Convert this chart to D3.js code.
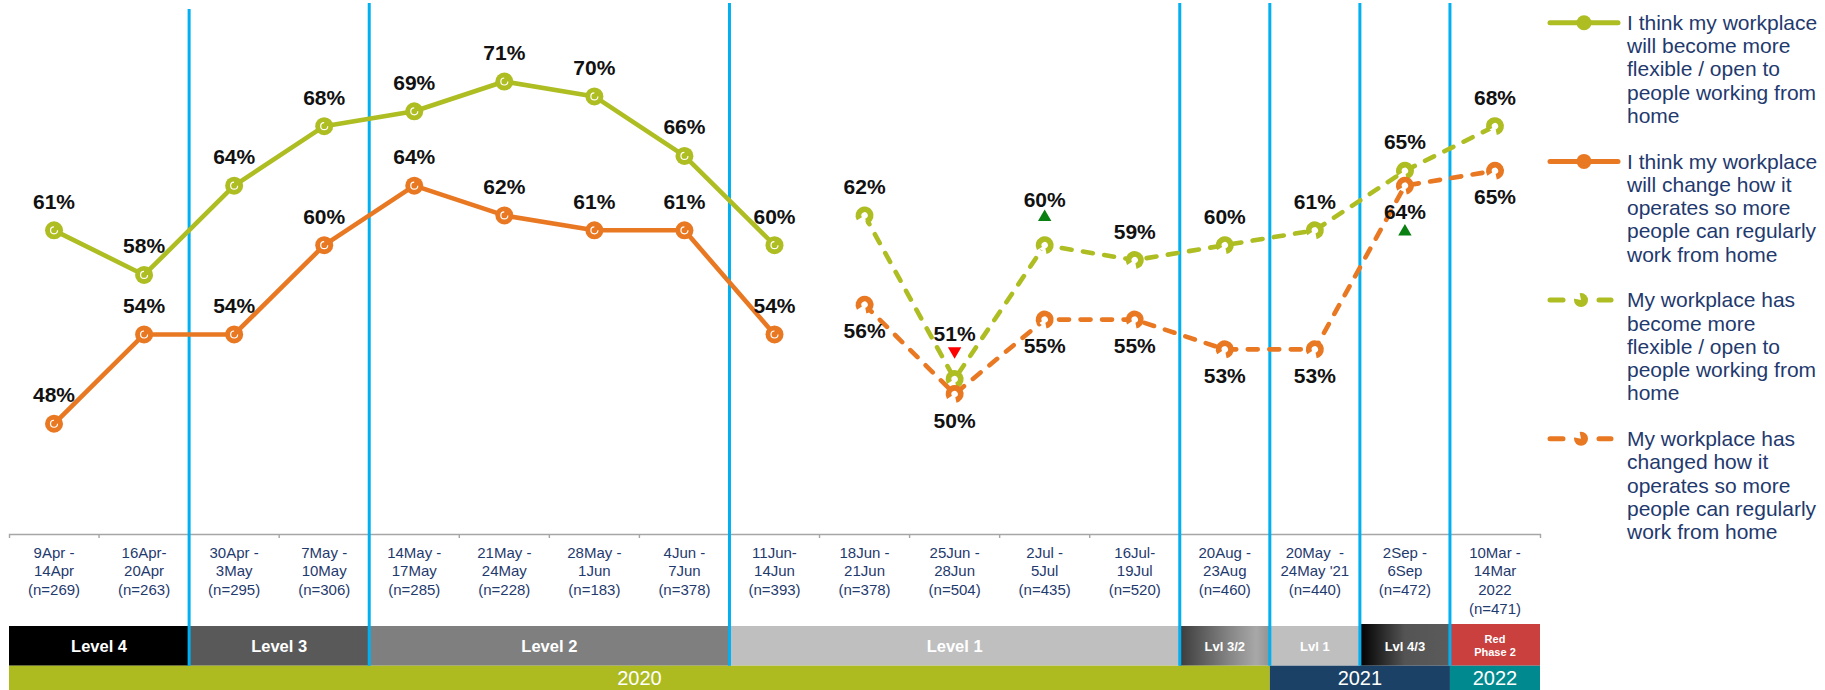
<!DOCTYPE html>
<html>
<head>
<meta charset="utf-8">
<script src="https://cdn.jsdelivr.net/npm/d3@7"></script>
<style>
  html, body { margin: 0; padding: 0; background: #fff; }
  svg { display: block; font-family: "Liberation Sans", Arial, sans-serif; }
  text { white-space: pre; }
</style>
</head>
<body>
<svg id="chart" width="1825" height="690"></svg>
<script>
// ---- Survey waves (x axis) ----
const periods = [
  "9Apr -|14Apr", "16Apr-|20Apr", "30Apr -|3May", "7May -|10May",
  "14May -|17May", "21May -|24May", "28May -|1Jun", "4Jun -|7Jun",
  "11Jun-|14Jun", "18Jun -|21Jun", "25Jun -|28Jun", "2Jul -|5Jul",
  "16Jul-|19Jul", "20Aug -|23Aug", "20May  -|24May '21", "2Sep -|6Sep",
  "10Mar -|14Mar|2022"
];
const sampleSizes = [269, 263, 295, 306, 285, 228, 183, 378, 393, 378, 504, 435, 520, 460, 440, 472, 471];

// ---- Series values (%) ----
const thinkFlexible = [61, 58, 64, 68, 69, 71, 70, 66, 60, null, null, null, null, null, null, null, null];
const thinkChange   = [48, 54, 54, 60, 64, 62, 61, 61, 54, null, null, null, null, null, null, null, null];
const hasFlexible   = [null, null, null, null, null, null, null, null, null, 62, 51, 60, 59, 60, 61, 65, 68];
const hasChanged    = [null, null, null, null, null, null, null, null, null, 56, 50, 55, 55, 53, 53, 64, 65];

// Significant changes vs previous wave: [series key, wave index, direction]
const sigChanges = [["hasFlexible", 10, "down"], ["hasFlexible", 11, "up"], ["hasChanged", 15, "up"]];

// ---- Alert levels and years ----
const levelLabels = ["Level 4", "Level 3", "Level 2", "Level 1", "Lvl 3/2", "Lvl 1", "Lvl 4/3", "Red|Phase 2"];
const levelStart  = [0, 2, 4, 8, 13, 14, 15, 16];
const levelEnd    = [1, 3, 7, 12, 13, 14, 15, 16];
const levelFill   = ["#000000", "#595959", "#7f7f7f", "#bfbfbf", "url(#gLvl32)", "#bfbfbf", "url(#gLvl43)", "#c9403f"];

const yearLabels = ["2020", "2021", "2022"];
const yearStart  = [0, 14, 16];
const yearEnd    = [13, 15, 16];
const yearFill   = ["#adbb21", "#1b4266", "#008a8f"];

// Waves where a new alert level / year begins
const phaseBreaks = [2, 4, 8, 13, 14, 15, 16];

const legendText = [
  ["I think my workplace", "will become more", "flexible / open to", "people working from", "home"],
  ["I think my workplace", "will change how it", "operates so more", "people can regularly", "work from home"],
  ["My workplace has", "become more", "flexible / open to", "people working from", "home"],
  ["My workplace has", "changed how it", "operates so more", "people can regularly", "work from home"]
];

const GREEN = "#adbd22", ORANGE = "#e97823", NAVY = "#1f3a6e", BLUE = "#00b0f0";

const series = [
  { key: "thinkFlexible", values: thinkFlexible, color: GREEN,  dashed: false, label: "above" },
  { key: "thinkChange",   values: thinkChange,   color: ORANGE, dashed: false, label: "above" },
  { key: "hasFlexible",   values: hasFlexible,   color: GREEN,  dashed: true,  label: "above" },
  { key: "hasChanged",    values: hasChanged,    color: ORANGE, dashed: true,  label: "below" }
];

const svg = d3.select("#chart");

// gradients for the mixed-level bands
const defs = svg.append("defs");
const g32 = defs.append("linearGradient").attr("id", "gLvl32");
[["0%", "#3c3c3c"], ["55%", "#858585"], ["85%", "#a8a8a8"], ["100%", "#929292"]]
  .forEach(([o, c]) => g32.append("stop").attr("offset", o).attr("stop-color", c));
const g43 = defs.append("linearGradient").attr("id", "gLvl43");
[["0%", "#000000"], ["50%", "#545454"], ["100%", "#5b5b5b"]]
  .forEach(([o, c]) => g43.append("stop").attr("offset", o).attr("stop-color", c));

// ---- Scales ----
const x = d3.scaleBand().domain(d3.range(periods.length)).range([9, 1540]).padding(0);
const bw = x.bandwidth();
const cx = i => x(i) + bw / 2;
const y = d3.scaleLinear().domain([45, 75]).range([468.4, 22]);

const axisY = 534, bandTop = 626, bandMid = 665.7, bandBottom = 690;

// ---- Level bands ----
const lv = svg.append("g");
levelLabels.forEach((lab, k) => {
  const x0 = x(levelStart[k]), x1 = x(levelEnd[k]) + bw;
  const raised = levelStart[k] >= 15 ? 2 : 0;
  lv.append("rect").attr("x", x0).attr("y", bandTop - raised)
    .attr("width", x1 - x0).attr("height", bandMid - bandTop + raised)
    .attr("fill", levelFill[k]);
  const lines = lab.split("|");
  const small = (x1 - x0) < 100;
  const fs = lines.length > 1 ? 11 : (small ? 13 : 16.5);
  const t = lv.append("text").attr("text-anchor", "middle").attr("fill", "#fff")
    .attr("font-weight", "bold").attr("font-size", fs);
  lines.forEach((ln, j) => {
    const cy = (bandTop + bandMid) / 2 + (j - (lines.length - 1) / 2) * 13;
    t.append("tspan").attr("x", (x0 + x1) / 2).attr("y", cy + fs * 0.36).text(ln);
  });
});

// ---- Year bands ----
const yr = svg.append("g");
yearLabels.forEach((lab, k) => {
  const x0 = x(yearStart[k]), x1 = x(yearEnd[k]) + bw;
  yr.append("rect").attr("x", x0).attr("y", bandMid).attr("width", x1 - x0)
    .attr("height", bandBottom - bandMid).attr("fill", yearFill[k]);
  yr.append("text").attr("x", (x0 + x1) / 2).attr("y", (bandMid + bandBottom) / 2 + 7)
    .attr("text-anchor", "middle").attr("fill", "#fff").attr("font-size", 20).text(lab);
});

// ---- X axis ----
const axis = svg.append("g").attr("transform", `translate(0,${axisY})`)
  .call(d3.axisBottom(x).tickValues([]).tickSizeOuter(4));
axis.select(".domain").attr("stroke", "#a6a6a6").attr("stroke-width", 1.4);
axis.selectAll(".boundary").data(d3.range(1, periods.length)).join("line")
  .attr("class", "boundary").attr("x1", d => x(d)).attr("x2", d => x(d))
  .attr("y1", 0).attr("y2", 4).attr("stroke", "#a6a6a6").attr("stroke-width", 1.4);

const tickText = axis.selectAll(".tlabel").data(periods).join("text")
  .attr("class", "tlabel").attr("text-anchor", "middle").attr("fill", NAVY).attr("font-size", 15);
tickText.each(function (d, i) {
  const lines = d.split("|").concat([`(n=${sampleSizes[i]})`]);
  const t = d3.select(this);
  lines.forEach((ln, j) => {
    t.append("tspan").attr("x", cx(i)).attr("y", 18.3 + j * 18.6 + 5.4).text(ln);
  });
});

// ---- Phase divider lines ----
svg.append("g").selectAll("line").data(phaseBreaks).join("line")
  .attr("x1", d => x(d)).attr("x2", d => x(d))
  .attr("y1", (d, k) => k === 0 ? 9 : 3).attr("y2", bandMid)
  .attr("stroke", BLUE).attr("stroke-width", 3);

// ---- Lines ----
const line = d3.line().defined(d => d.v != null).x(d => cx(d.i)).y(d => y(d.v));
const seriesG = svg.append("g");

function solidMarker(g, color, r) {
  g.append("circle").attr("r", r).attr("fill", color);
  g.append("circle").attr("r", 3.5).attr("fill", "none").attr("stroke", "#fff")
    .attr("stroke-width", 1.2).attr("stroke-dasharray", "16 6");
}
function dashedMarker(g, color, r) {
  g.append("circle").attr("r", r - 2.9).attr("fill", "#fff").attr("stroke", color)
    .attr("stroke-width", 5.8).attr("stroke-dasharray", "30 7")
    .attr("transform", "rotate(150)");
}

series.forEach(s => {
  const pts = s.values.map((v, i) => ({ i, v }));
  seriesG.append("path").datum(pts).attr("d", line).attr("fill", "none")
    .attr("stroke", s.color).attr("stroke-width", 4.6)
    .attr("stroke-linecap", "round").attr("stroke-linejoin", "round")
    .attr("stroke-dasharray", s.dashed ? "10 11.5" : null);
});
series.forEach(s => {
  s.values.forEach((v, i) => {
    if (v == null) return;
    const g = seriesG.append("g").attr("transform", `translate(${cx(i)},${y(v)})`);
    if (s.dashed) dashedMarker(g, s.color, 9); else solidMarker(g, s.color, 9);
  });
});

// ---- Data labels and significance arrows ----
const labelsG = svg.append("g");
series.forEach(s => {
  s.values.forEach((v, i) => {
    if (v == null) return;
    const sig = sigChanges.find(c => c[0] === s.key && c[1] === i);
    let labelOff = s.label === "above" ? -29 : 26;
    let triOff = null;
    if (sig) {
      if (s.label === "above") { triOff = -28; labelOff = -46; }
      else { triOff = 46; }
    }
    labelsG.append("text").attr("x", cx(i)).attr("y", y(v) + labelOff + 7.5)
      .attr("text-anchor", "middle").attr("font-weight", "bold").attr("font-size", 21)
      .attr("fill", "#111").text(v + "%");
    if (sig) {
      labelsG.append("path")
        .attr("d", d3.symbol(d3.symbolTriangle, 78)())
        .attr("transform", `translate(${cx(i)},${y(v) + triOff}) rotate(${sig[2] === "down" ? 180 : 0})`)
        .attr("fill", sig[2] === "down" ? "#ff0000" : "#0a7f12");
    }
  });
});

// ---- Legend ----
const legend = svg.append("g").attr("transform", "translate(1548,0)");
series.forEach((s, k) => {
  const base = 30 + k * 138.7;
  const g = legend.append("g");
  const my = base - 7.3;
  if (s.dashed) {
    [[0, 17], [49, 65]].forEach(([a, b]) =>
      g.append("line").attr("x1", a + 2).attr("x2", b - 2).attr("y1", my).attr("y2", my)
        .attr("stroke", s.color).attr("stroke-width", 5).attr("stroke-linecap", "round"));
    const m = g.append("g").attr("transform", `translate(33,${my})`);
    m.append("circle").attr("r", 7).attr("fill", s.color);
    m.append("path").attr("d", "M-7.5,-1.5 A7.5,7.5 0 0,1 -1.5,-7.5 L0,0 Z").attr("fill", "#fff");
  } else {
    g.append("line").attr("x1", 2).attr("x2", 70).attr("y1", my).attr("y2", my)
      .attr("stroke", s.color).attr("stroke-width", 5).attr("stroke-linecap", "round");
    g.append("circle").attr("cx", 36).attr("cy", my).attr("r", 7.5).attr("fill", s.color);
  }
  const t = g.append("text").attr("fill", NAVY).attr("font-size", 21);
  legendText[k].forEach((ln, j) => {
    t.append("tspan").attr("x", 79).attr("y", base + j * 23.2).text(ln);
  });
});
</script>
</body>
</html>
